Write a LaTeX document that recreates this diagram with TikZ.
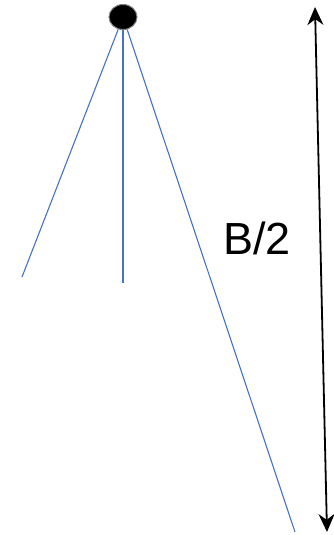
\documentclass[tikz,border=0pt]{standalone}
\usepackage{fontspec}
\setmainfont{Liberation Sans}
\usetikzlibrary{shapes.geometric, arrows.meta, positioning}
\definecolor{rayblue}{HTML}{4472C4}

\begin{document}
\begin{tikzpicture}[x=1pt, y=-1pt,
    source/.style={ellipse, draw=gray, fill=black, line width=1pt,
                   minimum width=28pt, minimum height=25pt, inner sep=0pt},
    ray/.style={rayblue, line width=1.1pt},
    dimarrow/.style={line width=1.8pt,
                     {Stealth[length=18pt,width=16pt]}-{Stealth[length=18pt,width=16pt]}},
    dimlabel/.style={font=\fontsize{45}{54}\selectfont, inner sep=0pt}]

    \useasboundingbox (0,0) rectangle (333,535);

    \node[source] (lamp) at (123,17) {};

    \coordinate (leftend) at (22,277);
    \coordinate (midend) at (123,283);
    \coordinate (rightend) at (295,532);

    \draw[ray] (lamp) -- (leftend);
    \draw[ray] (lamp) -- (midend);
    \draw[ray] (lamp) -- (rightend);

    % half width
    \coordinate (dimtop) at (315,7);
    \coordinate (dimbottom) at (327,532);
    \draw[dimarrow] (dimtop) -- (dimbottom);

    \node[dimlabel] (halfwidth) at (257,238) {B/2};

\end{tikzpicture}
\end{document}
